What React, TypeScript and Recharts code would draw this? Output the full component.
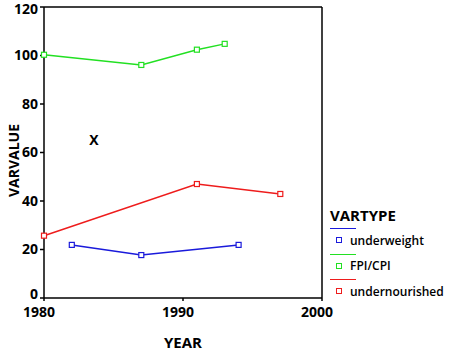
import {
  LineChart, Line, XAxis, YAxis, ReferenceLine, ReferenceDot,
} from "recharts";

const underweight = [
  { year: 1982, value: 21.9 },
  { year: 1987, value: 17.7 },
  { year: 1994, value: 21.9 },
];

const fpiCpi = [
  { year: 1980, value: 100.3 },
  { year: 1987, value: 96.1 },
  { year: 1991, value: 102.4 },
  { year: 1993, value: 104.8 },
];

const undernourished = [
  { year: 1980, value: 25.7 },
  { year: 1991, value: 47 },
  { year: 1997, value: 42.9 },
];

const xTicks = [1980, 1990, 2000];
const yTicks = [0, 20, 40, 60, 80, 100, 120];

const series = [
  { name: "underweight", data: underweight, color: "#1a1adb" },
  { name: "FPI/CPI", data: fpiCpi, color: "#22e022" },
  { name: "undernourished", data: undernourished, color: "#ee1c1c" },
];

const font = "'Open Sans', 'DejaVu Sans', sans-serif";
const tickStyle = { fontSize: 14, fontWeight: 700, fill: "#000", fontFamily: font };

const SquareDot = ({ cx, cy, stroke }: any) => {
  if (cx == null || cy == null) return null;
  return <rect x={cx - 2.5} y={cy - 2.5} width={5} height={5} fill="#fff" stroke={stroke} strokeWidth={1.2} />;
};

// the zero label sits a little above the axis in the original
const YTick = ({ x, y, payload }: any) => (
  <text x={x} y={y + (payload.value === 0 ? -4 : 0)} dy="0.355em" textAnchor="end" {...tickStyle}>
    {payload.value}
  </text>
);

const XTick = ({ x, y, payload }: any) => (
  <text x={x - 5} y={y + 4} dy="0.71em" textAnchor="middle" {...tickStyle}>
    {payload.value}
  </text>
);

const VarLegend = () => (
  <div style={{ position: "absolute", left: 330, top: 204, width: 120, fontFamily: font, color: "#000" }}>
    <div style={{ fontSize: 15, fontWeight: 700, lineHeight: "22px", height: 22 }}>VARTYPE</div>
    {series.map((s) => (
      <div key={s.name}>
        <div style={{ width: 26, height: 1, background: s.color, marginTop: 2 }} />
        <div style={{ display: "flex", alignItems: "center", height: 22.5 }}>
          <span style={{ width: 4, height: 4, border: `1.2px solid ${s.color}`, marginLeft: 6, marginRight: 8 }} />
          <span style={{ fontSize: 12, fontWeight: 600 }}>{s.name}</span>
        </div>
      </div>
    ))}
  </div>
);

export default function App() {
  return (
    <div style={{ position: "absolute", left: 0, top: 0, width: 450, height: 352, background: "#fff" }}>
      <LineChart width={450} height={352} margin={{ top: 7, right: 128, bottom: 4, left: 8 }}>
        <XAxis
          type="number"
          dataKey="year"
          domain={[1980, 2000]}
          ticks={xTicks}
          tick={<XTick />}
          tickSize={3}
          stroke="#000"
          strokeWidth={1.5}
          height={50}
          label={{ value: "YEAR", position: "insideBottom", offset: 0, style: { ...tickStyle, fontSize: 15 } }}
        />
        <YAxis
          type="number"
          dataKey="value"
          domain={[0, 120]}
          ticks={yTicks}
          tick={<YTick />}
          tickSize={4}
          stroke="#000"
          strokeWidth={1.5}
          width={36}
          label={{ value: "VARVALUE", angle: -90, position: "insideLeft", offset: 6, dy: 8, style: { ...tickStyle, fontSize: 14, textAnchor: "middle" } }}
        />
        <ReferenceLine y={120} stroke="#000" strokeWidth={1.5} />
        <ReferenceLine x={2000} stroke="#000" strokeWidth={1.5} />
        <ReferenceDot
          x={1983.6}
          y={65}
          r={0}
          label={{ value: "X", position: "center", style: { ...tickStyle, fontSize: 14 } }}
        />
        {series.map((s) => (
          <Line
            key={s.name}
            data={s.data}
            dataKey="value"
            name={s.name}
            stroke={s.color}
            strokeWidth={1.5}
            dot={<SquareDot />}
            activeDot={false}
            isAnimationActive={false}
          />
        ))}
      </LineChart>
      <VarLegend />
    </div>
  );
}
